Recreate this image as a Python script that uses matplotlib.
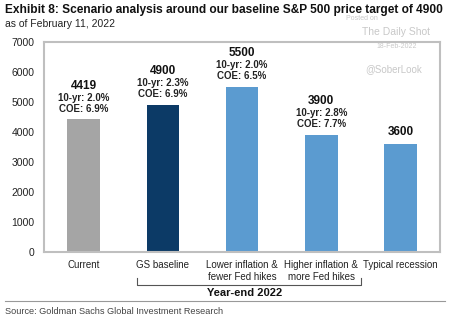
import matplotlib
matplotlib.use("Agg")
import matplotlib.pyplot as plt
from matplotlib.lines import Line2D

plt.rcParams['font.family'] = ['Liberation Sans', 'DejaVu Sans']

categories = ["Current", "GS baseline", "Lower inflation &\nfewer Fed hikes",
              "Higher inflation &\nmore Fed hikes", "Typical recession"]
values = [4419, 4900, 5500, 3900, 3600]
ten_yr = ["2.0%", "2.3%", "2.0%", "2.8%", None]
coe = ["6.9%", "6.9%", "6.5%", "7.7%", None]
colors = ["#A5A5A5", "#0C3A66", "#5B9BD0", "#5B9BD0", "#5B9BD0"]
yticks = [0, 1000, 2000, 3000, 4000, 5000, 6000, 7000]

fig = plt.figure(figsize=(4.5, 3.22), dpi=100)
ax = fig.add_axes([0.098, 0.217, 0.880, 0.653])
x = list(range(len(categories)))
ax.bar(x, values, width=0.41, color=colors, zorder=2)
ax.set_xlim(-0.5, 4.5)
ax.set_ylim(0, 7000)
ax.set_yticks(yticks)
ax.set_yticklabels([str(t) for t in yticks], fontsize=7.5, color="#222222")
ax.set_xticks(x)
ax.set_xticklabels(categories, fontsize=7, color="#222222", linespacing=1.2)
ax.tick_params(axis='both', length=0)
ax.tick_params(axis='y', pad=7)
ax.tick_params(axis='x', pad=6)
for s in ax.spines.values():
    s.set_color("#BFBFBF")
    s.set_linewidth(1.5)

for i, v in enumerate(values):
    if ten_yr[i] is not None:
        ax.annotate(f"COE: {coe[i]}", (i, v), xytext=(0, 4), textcoords="offset points",
                    ha="center", va="bottom", fontsize=7, fontweight="bold", color="#222222")
        ax.annotate(f"10-yr: {ten_yr[i]}", (i, v), xytext=(0, 12), textcoords="offset points",
                    ha="center", va="bottom", fontsize=7, fontweight="bold", color="#222222")
        ax.annotate(str(v), (i, v), xytext=(0, 20), textcoords="offset points",
                    ha="center", va="bottom", fontsize=8.5, fontweight="bold", color="#111111")
    else:
        ax.annotate(str(v), (i, v), xytext=(0, 4), textcoords="offset points",
                    ha="center", va="bottom", fontsize=8.5, fontweight="bold", color="#111111")

W, H = 450, 322
def fx(px): return px / W
def fy(py): return 1 - py / H

fig.text(fx(5), fy(10), "Exhibit 8: Scenario analysis around our baseline S&P 500 price target of 4900",
         fontsize=8.6, fontweight="bold", va="center", ha="left", color="#111111")
fig.text(fx(5), fy(24), "as of February 11, 2022", fontsize=7.5, va="center", ha="left", color="#222222")

# watermark
fig.text(fx(362), fy(19), "Posted on", fontsize=5, color="#C8C8C8", va="center", ha="center")
fig.text(fx(396), fy(32), "The Daily Shot", fontsize=7.5, color="#C8C8C8", va="center", ha="center")
fig.text(fx(397), fy(46), "18-Feb-2022", fontsize=5, color="#C8C8C8", va="center", ha="center")
fig.text(fx(394), fy(69), "@SoberLook", fontsize=7, color="#C8C8C8", va="center", ha="center")

# bracket
bl, br, btop, bbot = 137, 361, 278, 285
fig.add_artist(Line2D([fx(bl), fx(bl), fx(br), fx(br)], [fy(btop), fy(bbot), fy(bbot), fy(btop)],
                      color="#555555", lw=0.8))
fig.text(fx(245), fy(293), "Year-end 2022", fontsize=8, fontweight="bold", va="center", ha="center", color="#111111")

# rule and source
fig.add_artist(Line2D([fx(5), fx(445)], [fy(301), fy(301)], color="#999999", lw=0.8))
fig.text(fx(5), fy(312), "Source: Goldman Sachs Global Investment Research", fontsize=6.6,
         va="center", ha="left", color="#444444")

fig.savefig("out.png", dpi=100)
